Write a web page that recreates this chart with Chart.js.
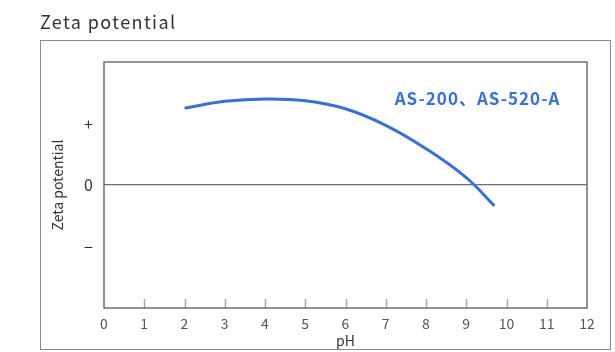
<!DOCTYPE html>
<html>
<head>
<meta charset="utf-8">
<script src="https://cdn.jsdelivr.net/npm/chart.js@4"></script>
<style>
  html,body{margin:0;padding:0;background:#fff;}
  #wrap{position:relative;width:615px;height:352px;overflow:hidden;}
  #c{position:absolute;left:0;top:0;}
  #title{position:absolute;left:40px;top:8px;font-family:"Noto Sans CJK JP","Noto Sans",sans-serif;font-size:18px;color:#333;letter-spacing:1.4px;font-weight:400;}
  #frame{position:absolute;left:40px;top:40px;width:569px;height:308px;border:1.5px solid #8a8a8a;pointer-events:none;}
</style>
</head>
<body>
<div id="wrap">
  <canvas id="c" width="615" height="352"></canvas>
  <div id="frame"></div>
  <div id="title">Zeta potential</div>
</div>
<script>
// ---- data ----
const pH = [2, 3, 4, 5, 6, 7, 8, 9, 9.7];
const zeta = [1.25, 1.36, 1.40, 1.37, 1.24, 0.97, 0.59, 0.12, -0.34];
const seriesLabel = "AS-200、AS-520-A";
const labelPos = { x: 9.28, y: 1.41 };
const xTicks = [0,1,2,3,4,5,6,7,8,9,10,11,12];
const yTickLabels = { "1": "+", "0": "0", "-1": "−" };

const blue = "#3a70d6";
const fontFam = '"Noto Sans CJK JP","Noto Sans",sans-serif';

const boxPlugin = {
  id: "boxPlugin",
  afterDraw(chart) {
    const { ctx, chartArea: a, scales } = chart;
    ctx.save();
    ctx.strokeStyle = "#a8a8a8";
    ctx.lineWidth = 1.5;
    for (let v = 1; v <= 11; v++) {
      const x = Math.round(scales.x.getPixelForValue(v)) + 0.5;
      ctx.beginPath();
      ctx.moveTo(x, a.bottom);
      ctx.lineTo(x, a.bottom - 9);
      ctx.stroke();
    }
    ctx.strokeStyle = "#6e6e6e";
    ctx.lineWidth = 1.5;
    ctx.strokeRect(a.left, a.top, a.right - a.left, a.bottom - a.top);
    ctx.fillStyle = blue;
    ctx.font = "bold 17px " + fontFam;
    if ("letterSpacing" in ctx) ctx.letterSpacing = "1px";
    ctx.textAlign = "center";
    ctx.textBaseline = "middle";
    ctx.fillText(seriesLabel, scales.x.getPixelForValue(labelPos.x), scales.y.getPixelForValue(labelPos.y));
    ctx.restore();
  }
};

new Chart(document.getElementById("c"), {
  type: "line",
  data: {
    datasets: [{
      label: seriesLabel,
      data: pH.map((x, i) => ({ x, y: zeta[i] })),
      borderColor: blue,
      borderWidth: 3,
      pointRadius: 0,
      tension: 0.4,
      fill: false
    }]
  },
  options: {
    responsive: false,
    animation: false,
    layout: { padding: { left: 44, right: 28, top: 62, bottom: 3 } },
    plugins: { legend: { display: false }, tooltip: { enabled: false } },
    scales: {
      x: {
        type: "linear",
        min: 0, max: 12,
        afterBuildTicks: s => { s.ticks = xTicks.map(v => ({ value: v })); },
        afterFit: s => { s.height = 41; },
        grid: { display: false, drawTicks: false },
        border: { display: false },
        ticks: { padding: 7, color: "#555", font: { family: fontFam, size: 14 }, maxRotation: 0, autoSkip: false },
        title: { display: true, text: "pH", color: "#333", font: { family: fontFam, size: 14 }, padding: { top: 0, bottom: 0 } }
      },
      y: {
        type: "linear",
        min: -2, max: 2,
        afterBuildTicks: s => { s.ticks = [-1, 0, 1].map(v => ({ value: v })); },
        afterFit: s => { s.width = 60; },
        grid: {
          drawTicks: false,
          color: c => (c.tick && c.tick.value === 0) ? "#6e6e6e" : "rgba(0,0,0,0)",
          lineWidth: 1.2
        },
        border: { display: false },
        ticks: {
          padding: 11,
          color: "#333",
          font: { family: fontFam, size: 16 },
          callback: v => yTickLabels[String(v)]
        },
        title: { display: true, text: "Zeta potential", color: "#333", font: { family: fontFam, size: 14 }, padding: { top: 5, bottom: 0 } }
      }
    }
  },
  plugins: [boxPlugin]
});
</script>
</body>
</html>
